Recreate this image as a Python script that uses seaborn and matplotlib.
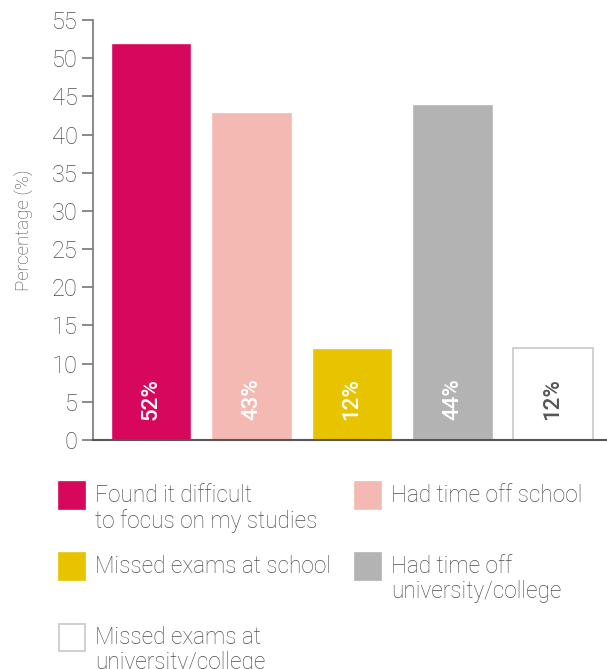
import matplotlib
matplotlib.use("Agg")
import matplotlib.pyplot as plt
import seaborn as sns
from matplotlib.patches import Rectangle

categories = [
    "Found it difficult\nto focus on my studies",
    "Had time off school",
    "Missed exams at school",
    "Had time off\nuniversity/college",
    "Missed exams at\nuniversity/college",
]
values = [52, 43, 12, 44, 12]
colors = ["#D6075C", "#F4B9B2", "#E8C300", "#B3B3B3", "#FFFFFF"]
label_colors = ["white", "white", "white", "white", "#555555"]
yticks = list(range(0, 56, 5))

sns.set_style("white")
plt.rcParams["font.family"] = ["Roboto", "DejaVu Sans"]

W, H = 607, 669
fig = plt.figure(figsize=(W / 100, H / 100), dpi=100)
ax = fig.add_axes([93 / W, 1 - 440 / H, 1 - 93 / W, 420 / H])

sns.barplot(x=categories, y=values, hue=categories, palette=colors,
            legend=False, width=0.8, saturation=1, ax=ax)

# white bar gets a thin grey outline
ax.patches[4].set_edgecolor("#C8C8C8")
ax.patches[4].set_linewidth(1.2)

for i, v in enumerate(values):
    ax.text(i, 5.4, f"{v}%", rotation=90, ha="center", va="center",
            color=label_colors[i], fontsize=16, fontweight="medium")

ax.set_xlim(-0.58, 4.54)
ax.set_ylim(0, 55)
ax.set_yticks(yticks)
ax.set_yticklabels([str(t) for t in yticks], fontsize=17,
                   color="#4d4d4d", fontweight="light")
ax.set_xticks([])
ax.tick_params(axis="y", left=True, length=8, width=1.2, color="#777777", pad=3)
ax.set_ylabel("Percentage (%)", fontsize=13.5, color="#4d4d4d",
              fontweight="light", labelpad=13)

for s in ["top", "right"]:
    ax.spines[s].set_visible(False)
ax.spines["left"].set_color("#777777")
ax.spines["left"].set_linewidth(1.2)
ax.spines["bottom"].set_color("#555555")
ax.spines["bottom"].set_linewidth(1.5)

# legend, drawn as a 2-column grid with aligned rows
legend_cols = [59, 355]
legend_rows = [482, 553, 624]
order = [(0, 0), (0, 1), (1, 0), (1, 1), (2, 0)]
for i, (r, c) in enumerate(order):
    x0 = legend_cols[c]
    y0 = legend_rows[r]
    fig.add_artist(Rectangle((x0 / W, 1 - (y0 + 27) / H), 26 / W, 27 / H,
                             transform=fig.transFigure, facecolor=colors[i],
                             edgecolor="#C8C8C8" if colors[i] == "#FFFFFF" else colors[i],
                             linewidth=1.2))
    fig.text((x0 + 36) / W, 1 - (y0 + 2) / H, categories[i], ha="left", va="top",
             fontsize=16.3, color="#4d4d4d", fontweight="light", linespacing=1.1)

fig.savefig("out.png", dpi=100)
